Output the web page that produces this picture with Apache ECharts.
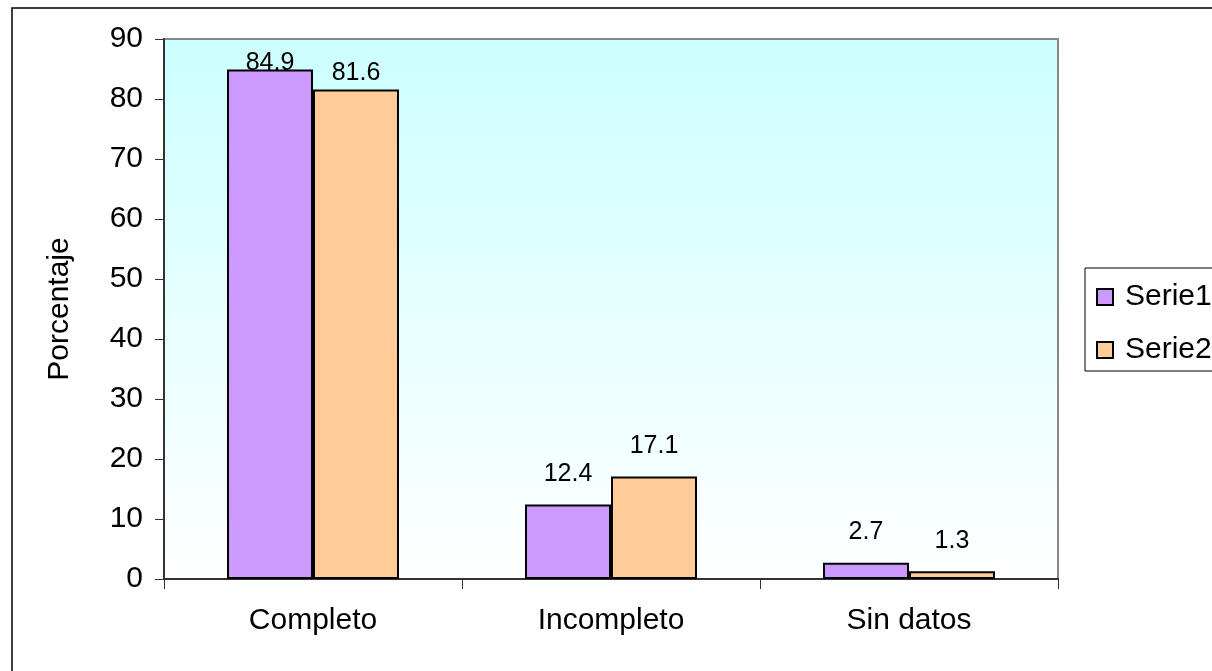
<!DOCTYPE html>
<html lang="es">

<head>
    <meta charset="UTF-8">
    <title>Porcentaje</title>
    <script src="https://cdn.jsdelivr.net/npm/echarts@6/dist/echarts.min.js"></script>
    <style>
        body { margin: 0; background: #fff; }
    </style>
</head>

<body>
    <div id="main" style="width: 1212px;height:671px;"></div>
    <script type="text/javascript">
        // datos
        var categorias = ['Completo', 'Incompleto', 'Sin datos']
        var serie1 = [84.9, 12.4, 2.7]
        var serie2 = [81.6, 17.1, 1.3]
        var nombres = ['Serie1', 'Serie2']
        // separación de la etiqueta sobre cada barra
        var sep1 = [-6, 18, 18]
        var sep2 = [4, 18, 18]

        var fuente = 'Liberation Sans, Arial, sans-serif'
        var myChart = echarts.init(document.getElementById('main'));

        let barras = (vals, seps) => vals.map((v, i) => ({
            value: v,
            label: { distance: seps[i] }
        }))

        var option = {
            animation: false,
            textStyle: { fontFamily: fuente },
            grid: {
                left: 164, top: 39, right: 154, bottom: 92,
                show: true,
                borderColor: '#888',
                borderWidth: 2,
                backgroundColor: {
                    type: 'linear', x: 0, y: 0, x2: 0, y2: 1,
                    colorStops: [{ offset: 0, color: '#ccffff' }, { offset: 1, color: '#ffffff' }]
                }
            },
            graphic: [{
                type: 'rect',
                shape: { x: 12, y: 8, width: 1300, height: 800 },
                style: { fill: 'none', stroke: '#000', lineWidth: 1.5 },
                silent: true
            }],
            legend: {
                orient: 'vertical',
                left: 1085, top: 268,
                padding: [14, 40, 6, 11],
                itemGap: 23,
                itemWidth: 16, itemHeight: 16,
                borderColor: '#000', borderWidth: 1,
                icon: 'rect',
                textStyle: { fontSize: 30, color: '#000', fontFamily: fuente, padding: [0, 0, 0, 7] },
                data: nombres
            },
            xAxis: {
                type: 'category',
                data: categorias,
                axisLine: { lineStyle: { color: '#333', width: 2 } },
                axisTick: { show: true, length: 10, lineStyle: { color: '#333' } },
                axisLabel: { fontSize: 30, color: '#000', margin: 27 }
            },
            yAxis: {
                type: 'value',
                min: 0, max: 90, interval: 10,
                name: 'Porcentaje',
                nameLocation: 'middle',
                nameGap: 89,
                nameTextStyle: { fontSize: 30, color: '#000' },
                splitLine: { show: false },
                axisLine: { show: true, lineStyle: { color: '#333', width: 2 } },
                axisTick: { show: true, length: 9, lineStyle: { color: '#333' } },
                axisLabel: { fontSize: 30, color: '#000', margin: 21 }
            },
            series: [{
                name: nombres[0],
                type: 'bar',
                data: barras(serie1, sep1),
                barWidth: 86,
                barGap: '0%',
                itemStyle: { color: '#cc99ff', borderColor: '#000', borderWidth: 2 },
                label: { show: true, position: 'top', fontSize: 25, color: '#000' }
            }, {
                name: nombres[1],
                type: 'bar',
                data: barras(serie2, sep2),
                barWidth: 86,
                barGap: '0%',
                itemStyle: { color: '#ffcc99', borderColor: '#000', borderWidth: 2 },
                label: { show: true, position: 'top', fontSize: 25, color: '#000' }
            }]
        };

        myChart.setOption(option);
    </script>
</body>

</html>
